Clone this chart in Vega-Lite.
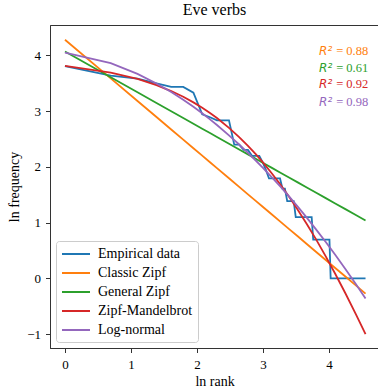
{
  "$schema": "https://vega.github.io/schema/vega-lite/v6.json",
  "width": 329,
  "height": 323,
  "autosize": {"type": "none"},
  "padding": {"left": 50, "top": 25, "right": 0, "bottom": 43},
  "background": "white",
  "title": {"text": "Eve verbs", "font": "Liberation Serif", "fontSize": 16, "fontWeight": "normal", "color": "black", "anchor": "middle", "offset": 7},
  "config": {
    "view": {"stroke": "#333333", "strokeWidth": 1},
    "axis": {"domainColor": "#333333", "tickColor": "#333333", "labelFont": "Liberation Serif", "labelFontSize": 13, "labelColor": "black", "titleFont": "Liberation Serif", "titleFontSize": 14, "titleFontWeight": "normal", "titleColor": "black", "grid": false, "tickSize": 4.5, "labelPadding": 4, "domainWidth": 1},
    "legend": {"orient": "bottom-left", "offset": 6, "fillColor": "rgba(255,255,255,0.8)", "strokeColor": "#cccccc", "cornerRadius": 3, "padding": 5, "labelFont": "Liberation Serif", "labelFontSize": 14, "labelColor": "black", "symbolType": "M-1,0H3", "symbolSize": 196, "symbolStrokeWidth": 2, "rowPadding": 4, "labelOffset": 21}
  },
  "datasets": {
    "emp": [
      {"model": "Empirical data", "lnrank": 0, "lnfreq": 3.807},
      {"model": "Empirical data", "lnrank": 0.6931, "lnfreq": 3.638},
      {"model": "Empirical data", "lnrank": 1.0986, "lnfreq": 3.584},
      {"model": "Empirical data", "lnrank": 1.3863, "lnfreq": 3.497},
      {"model": "Empirical data", "lnrank": 1.6094, "lnfreq": 3.434},
      {"model": "Empirical data", "lnrank": 1.7918, "lnfreq": 3.434},
      {"model": "Empirical data", "lnrank": 1.9459, "lnfreq": 3.332},
      {"model": "Empirical data", "lnrank": 2.0794, "lnfreq": 2.944},
      {"model": "Empirical data", "lnrank": 2.1972, "lnfreq": 2.89},
      {"model": "Empirical data", "lnrank": 2.3026, "lnfreq": 2.833},
      {"model": "Empirical data", "lnrank": 2.4849, "lnfreq": 2.833},
      {"model": "Empirical data", "lnrank": 2.5649, "lnfreq": 2.398},
      {"model": "Empirical data", "lnrank": 2.6391, "lnfreq": 2.398},
      {"model": "Empirical data", "lnrank": 2.7081, "lnfreq": 2.303},
      {"model": "Empirical data", "lnrank": 2.7726, "lnfreq": 2.303},
      {"model": "Empirical data", "lnrank": 2.8332, "lnfreq": 2.197},
      {"model": "Empirical data", "lnrank": 2.9444, "lnfreq": 2.197},
      {"model": "Empirical data", "lnrank": 2.9957, "lnfreq": 2.079},
      {"model": "Empirical data", "lnrank": 3.0445, "lnfreq": 1.946},
      {"model": "Empirical data", "lnrank": 3.091, "lnfreq": 1.792},
      {"model": "Empirical data", "lnrank": 3.2581, "lnfreq": 1.792},
      {"model": "Empirical data", "lnrank": 3.2958, "lnfreq": 1.609},
      {"model": "Empirical data", "lnrank": 3.3322, "lnfreq": 1.609},
      {"model": "Empirical data", "lnrank": 3.3673, "lnfreq": 1.386},
      {"model": "Empirical data", "lnrank": 3.4657, "lnfreq": 1.386},
      {"model": "Empirical data", "lnrank": 3.4965, "lnfreq": 1.099},
      {"model": "Empirical data", "lnrank": 3.7377, "lnfreq": 1.099},
      {"model": "Empirical data", "lnrank": 3.7612, "lnfreq": 0.693},
      {"model": "Empirical data", "lnrank": 4.0073, "lnfreq": 0.693},
      {"model": "Empirical data", "lnrank": 4.0254, "lnfreq": 0},
      {"model": "Empirical data", "lnrank": 4.5539, "lnfreq": 0}
    ],
    "fits": [
      {"lnrank": 0, "Classic Zipf": 4.28, "General Zipf": 4.07, "Zipf-Mandelbrot": 3.81, "Log-normal": 4.05},
      {"lnrank": 0.6931, "Classic Zipf": 3.587, "General Zipf": 3.608, "Zipf-Mandelbrot": 3.691, "Log-normal": 3.859},
      {"lnrank": 1.0986, "Classic Zipf": 3.181, "General Zipf": 3.338, "Zipf-Mandelbrot": 3.577, "Log-normal": 3.667},
      {"lnrank": 1.3863, "Classic Zipf": 2.894, "General Zipf": 3.147, "Zipf-Mandelbrot": 3.467, "Log-normal": 3.496},
      {"lnrank": 1.6094, "Classic Zipf": 2.671, "General Zipf": 2.998, "Zipf-Mandelbrot": 3.36, "Log-normal": 3.342},
      {"lnrank": 1.7918, "Classic Zipf": 2.488, "General Zipf": 2.877, "Zipf-Mandelbrot": 3.257, "Log-normal": 3.203},
      {"lnrank": 1.9459, "Classic Zipf": 2.334, "General Zipf": 2.774, "Zipf-Mandelbrot": 3.157, "Log-normal": 3.077},
      {"lnrank": 2.0794, "Classic Zipf": 2.201, "General Zipf": 2.685, "Zipf-Mandelbrot": 3.06, "Log-normal": 2.96},
      {"lnrank": 2.1972, "Classic Zipf": 2.083, "General Zipf": 2.607, "Zipf-Mandelbrot": 2.966, "Log-normal": 2.852},
      {"lnrank": 2.3026, "Classic Zipf": 1.977, "General Zipf": 2.537, "Zipf-Mandelbrot": 2.875, "Log-normal": 2.751},
      {"lnrank": 2.4849, "Classic Zipf": 1.795, "General Zipf": 2.415, "Zipf-Mandelbrot": 2.7, "Log-normal": 2.566},
      {"lnrank": 2.6391, "Classic Zipf": 1.641, "General Zipf": 2.312, "Zipf-Mandelbrot": 2.534, "Log-normal": 2.401},
      {"lnrank": 2.7726, "Classic Zipf": 1.507, "General Zipf": 2.224, "Zipf-Mandelbrot": 2.377, "Log-normal": 2.251},
      {"lnrank": 2.8904, "Classic Zipf": 1.39, "General Zipf": 2.145, "Zipf-Mandelbrot": 2.227, "Log-normal": 2.114},
      {"lnrank": 2.9957, "Classic Zipf": 1.284, "General Zipf": 2.075, "Zipf-Mandelbrot": 2.084, "Log-normal": 1.987},
      {"lnrank": 3.1355, "Classic Zipf": 1.145, "General Zipf": 1.982, "Zipf-Mandelbrot": 1.881, "Log-normal": 1.812},
      {"lnrank": 3.2581, "Classic Zipf": 1.022, "General Zipf": 1.9, "Zipf-Mandelbrot": 1.691, "Log-normal": 1.653},
      {"lnrank": 3.4012, "Classic Zipf": 0.879, "General Zipf": 1.805, "Zipf-Mandelbrot": 1.453, "Log-normal": 1.46},
      {"lnrank": 3.5264, "Classic Zipf": 0.754, "General Zipf": 1.721, "Zipf-Mandelbrot": 1.232, "Log-normal": 1.285},
      {"lnrank": 3.6636, "Classic Zipf": 0.616, "General Zipf": 1.63, "Zipf-Mandelbrot": 0.976, "Log-normal": 1.088},
      {"lnrank": 3.8067, "Classic Zipf": 0.473, "General Zipf": 1.535, "Zipf-Mandelbrot": 0.694, "Log-normal": 0.874},
      {"lnrank": 3.9512, "Classic Zipf": 0.329, "General Zipf": 1.439, "Zipf-Mandelbrot": 0.394, "Log-normal": 0.651},
      {"lnrank": 4.0943, "Classic Zipf": 0.186, "General Zipf": 1.343, "Zipf-Mandelbrot": 0.083, "Log-normal": 0.423},
      {"lnrank": 4.2485, "Classic Zipf": 0.032, "General Zipf": 1.241, "Zipf-Mandelbrot": -0.267, "Log-normal": 0.169},
      {"lnrank": 4.4067, "Classic Zipf": -0.127, "General Zipf": 1.135, "Zipf-Mandelbrot": -0.641, "Log-normal": -0.101},
      {"lnrank": 4.5539, "Classic Zipf": -0.274, "General Zipf": 1.037, "Zipf-Mandelbrot": -1.002, "Log-normal": -0.36}
    ],
    "r2": [
      {"m2": "Classic Zipf", "lnrank": 4.595, "lnfreq": 4.07, "val": "= 0.88"},
      {"m2": "General Zipf", "lnrank": 4.595, "lnfreq": 3.77, "val": "= 0.61"},
      {"m2": "Zipf-Mandelbrot", "lnrank": 4.595, "lnfreq": 3.49, "val": "= 0.92"},
      {"m2": "Log-normal", "lnrank": 4.595, "lnfreq": 3.17, "val": "= 0.98"}
    ]
  },
  "encoding": {
    "x": {"field": "lnrank", "type": "quantitative", "scale": {"domain": [-0.227, 4.758], "nice": false, "zero": false},
      "axis": {"values": [0, 1, 2, 3, 4], "format": "d", "title": "ln rank", "titlePadding": 3, "labelPadding": 6}},
    "y": {"field": "lnfreq", "type": "quantitative", "scale": {"domain": [-1.25, 4.545], "nice": false, "zero": false},
      "axis": {"values": [-1, 0, 1, 2, 3, 4], "format": "d", "title": "ln frequency", "titlePadding": 5, "labelPadding": 5, "labelExpr": "replace(datum.label, '-', '\u2212')"}}
  },
  "layer": [
    {
      "data": {"name": "emp"},
      "mark": {"type": "line", "strokeWidth": 1.8, "clip": true},
      "encoding": {
        "color": {"field": "model", "type": "nominal",
          "scale": {"domain": ["Empirical data", "Classic Zipf", "General Zipf", "Zipf-Mandelbrot", "Log-normal"], "range": ["#1f77b4", "#ff7f0e", "#2ca02c", "#d62728", "#9467bd"]},
          "legend": {"title": null}}
      }
    },
    {
      "data": {"name": "fits"},
      "transform": [{"fold": ["Classic Zipf", "General Zipf", "Zipf-Mandelbrot", "Log-normal"], "as": ["model", "lnfreq"]}],
      "mark": {"type": "line", "strokeWidth": 1.8, "clip": true},
      "encoding": {
        "color": {"field": "model", "type": "nominal", "legend": {"title": null}},
        "y": {"field": "lnfreq", "type": "quantitative"}
      }
    },
    {
      "data": {"name": "r2"},
      "mark": {"type": "text", "align": "right", "baseline": "middle", "font": "Liberation Serif", "fontSize": 12.5},
      "encoding": {
        "text": {"field": "val"},
        "color": {"field": "m2", "type": "nominal", "legend": null}
      }
    },
    {
      "data": {"name": "r2"},
      "mark": {"type": "text", "align": "right", "baseline": "middle", "font": "DejaVu Sans", "fontStyle": "italic", "fontSize": 12, "dx": -36, "text": "R\u00b2"},
      "encoding": {
        "color": {"field": "m2", "type": "nominal", "legend": null}
      }
    }
  ]
}
